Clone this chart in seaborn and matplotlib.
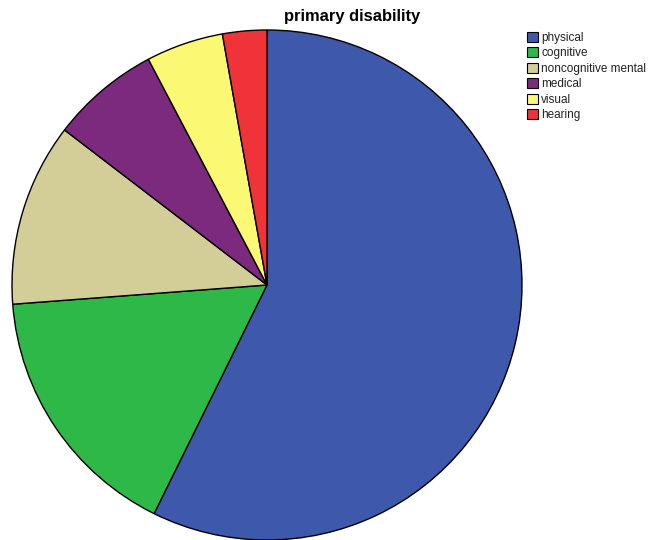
import matplotlib
matplotlib.use("Agg")
import matplotlib.pyplot as plt
import seaborn as sns

categories = ["physical", "cognitive", "noncognitive mental", "medical", "visual", "hearing"]
values = [57.3, 16.5, 11.6, 6.9, 4.9, 2.8]
colors = ["#3E58AC", "#2EB848", "#D3CE97", "#7B2A7E", "#FBF873", "#EF3338"]

sns.set_theme(style="white")
plt.rcParams['font.family'] = ['Liberation Sans', 'DejaVu Sans']
plt.rcParams['text.color'] = 'black'

W, H = 660, 540
fig = plt.figure(figsize=(W / 100, H / 100), dpi=100)
cx, cy, r = 267, 285, 255
ax = fig.add_axes([(cx - r) / W, (H - cy - r) / H, 2 * r / W, 2 * r / H])
wedges, _ = ax.pie(values, colors=sns.color_palette(colors), startangle=90, counterclock=False,
                   radius=1, wedgeprops=dict(edgecolor="black", linewidth=1.0))
for w in wedges:
    w.set_clip_on(False)
ax.set_xlim(-1, 1)
ax.set_ylim(-1, 1)
ax.set_aspect("auto")
ax.axis("off")

fig.text(352 / W, 1 - 17 / H, "primary disability", ha="center", va="center",
         fontsize=11.9, fontweight="bold", color="black")

leg = fig.legend(wedges, categories, loc="upper left", bbox_to_anchor=(527 / W, 1 - 32 / H),
                 frameon=False, fontsize=8.5, handlelength=0.9, handleheight=0.9,
                 handletextpad=0.3, labelspacing=0.29, borderaxespad=0, borderpad=0,
                 labelcolor="#222222")
for h in leg.legend_handles:
    h.set_edgecolor("black")
    h.set_linewidth(0.8)

fig.savefig("out.png", dpi=100)
